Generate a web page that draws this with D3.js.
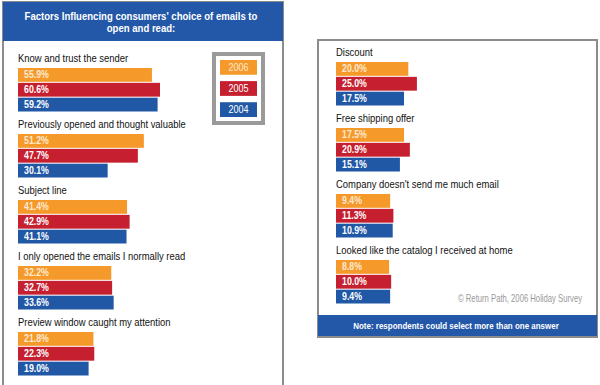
<!DOCTYPE html>
<html><head><meta charset="utf-8">
<script src="https://cdn.jsdelivr.net/npm/d3@7"></script>
<style>
html,body{margin:0;padding:0;background:#fff;}
svg{display:block;font-family:"Liberation Sans",Arial,sans-serif;}
</style></head>
<body><svg id="c" width="600" height="385"></svg>
<script>
const title = ["Factors Influencing consumers' choice of emails to", "open and read:"];
const categories = [
  "Know and trust the sender",
  "Previously opened and thought valuable",
  "Subject line",
  "I only opened the emails I normally read",
  "Preview window caught my attention",
  "Discount",
  "Free shipping offer",
  "Company doesn't send me much email",
  "Looked like the catalog I received at home"
];
const years = ["2006", "2005", "2004"];
const v2006 = [55.9, 51.2, 41.4, 32.2, 21.8, 20.0, 17.5, 9.4, 8.8];
const v2005 = [60.6, 47.7, 42.9, 32.7, 22.3, 25.0, 20.9, 11.3, 10.0];
const v2004 = [59.2, 30.1, 41.1, 33.6, 19.0, 17.5, 15.1, 10.9, 9.4];
const note = "Note: respondents could select more than one answer";
const source = "\u00A9 Return Path, 2006 Holiday Survey";

const series = [v2006, v2005, v2004];
const colors = {"2006": "#F5992B", "2005": "#C61F30", "2004": "#2158A6"};

const svg = d3.select("#c");

// text drawn in a horizontally condensed group (the original uses a narrow typeface)
function ctext(parent, x, y, f, str) {
  return parent.append("g").attr("transform", `translate(${x},${y}) scale(${f},1)`)
    .append("text").attr("x", 0).attr("y", 0).text(str);
}

// Panels
svg.append("rect").attr("x", 3).attr("y", 2).attr("width", 280).attr("height", 400)
  .attr("fill", "#fff").attr("stroke", "#8c8c8c").attr("stroke-width", 2);
svg.append("rect").attr("x", 3).attr("y", 2).attr("width", 280).attr("height", 39)
  .attr("fill", "#2357A8");
title.forEach((t, i) => {
  ctext(svg, 141, 20 + i * 12, 0.87, t).attr("text-anchor", "middle")
    .attr("fill", "#fff").attr("font-weight", "bold").attr("font-size", 11);
});

svg.append("rect").attr("x", 318).attr("y", 40).attr("width", 279).attr("height", 297)
  .attr("fill", "#fff").attr("stroke", "#8c8c8c").attr("stroke-width", 2);
svg.append("rect").attr("x", 318).attr("y", 315).attr("width", 279).attr("height", 21)
  .attr("fill", "#2357A8");
ctext(svg, 456, 329, 0.84, note).attr("text-anchor", "middle")
  .attr("fill", "#fff").attr("font-weight", "bold").attr("font-size", 9.5);
ctext(svg, 582, 302, 0.77, source).attr("text-anchor", "end")
  .attr("fill", "#9a9a9a").attr("font-size", 10);

// Scales
const x = d3.scaleLinear().domain([0, 60.6]).range([38, 142]);
const inner = d3.scaleBand().domain(years).range([0, 43.5]).paddingInner(0.07);
const panels = [
  {idx: [0, 1, 2, 3, 4], left: 18, top: 68},
  {idx: [5, 6, 7, 8], left: 336, top: 62}
];

panels.forEach(p => {
  const gy = d3.scaleLinear().domain([0, 1]).range([p.top, p.top + 66]);
  p.idx.forEach((ci, k) => {
    const g = svg.append("g").attr("transform", `translate(${p.left},${gy(k)})`);
    ctext(g, 0, -6, 0.9, categories[ci]).attr("fill", "#111").attr("font-size", 10.5);
    years.forEach((yr, s) => {
      const v = series[s][ci];
      g.append("rect").attr("x", 0).attr("y", inner(yr))
        .attr("width", x(v)).attr("height", inner.bandwidth()).attr("fill", colors[yr]);
      ctext(g, 6, inner(yr) + inner.bandwidth() / 2 + 3.5, 0.88, d3.format(".1f")(v) + "%")
        .attr("fill", s === 0 ? "#fde9cf" : "#fff").attr("font-weight", "bold")
        .attr("font-size", 10);
    });
  });
});

// Legend
svg.append("rect").attr("x", 214).attr("y", 54).attr("width", 49).attr("height", 69)
  .attr("fill", "#fff").attr("stroke", "#9a9a9a").attr("stroke-width", 4);
const ly = d3.scaleBand().domain(years).range([60, 117]).paddingInner(0.3);
years.forEach(yr => {
  svg.append("rect").attr("x", 220).attr("y", ly(yr)).attr("width", 37).attr("height", ly.bandwidth())
    .attr("fill", colors[yr]);
  ctext(svg, 238.5, ly(yr) + ly.bandwidth() / 2 + 3.5, 0.9, yr)
    .attr("text-anchor", "middle").attr("fill", yr === "2006" ? "#fde9cf" : "#fff")
    .attr("font-size", 10);
});
</script></body></html>
